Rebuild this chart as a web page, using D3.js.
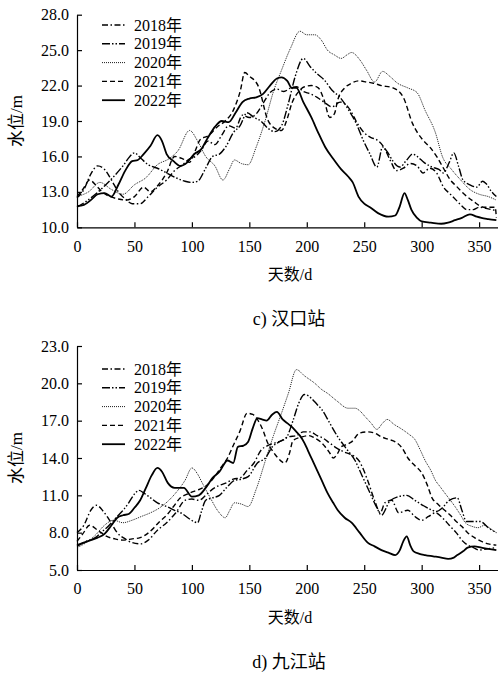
<!DOCTYPE html>
<html>
<head>
<meta charset="utf-8">
<script src="https://cdn.jsdelivr.net/npm/d3@7"></script>
<style>
  body { margin: 0; background: #fff; }
  svg text { font-family: "Liberation Serif", "Times New Roman", Times, "Noto Sans CJK SC", serif; fill: #000; }
</style>
</head>
<body>
<div id="chart"></div>
<script>
// legend labels and line styles
const years = ["2018年", "2019年", "2020年", "2021年", "2022年"];
const xTicks = [0, 50, 100, 150, 200, 250, 300, 350];

// 汉口站 water level, [day, m]
const hk2018 = [[0,12.5],[6,13.2],[12,14.5],[18,15.2],[24,14.9],[30,14.0],[36,13.0],[42,12.4],[48,12.0],[55,12.0],[62,12.6],[70,13.4],[78,14.0],[85,14.8],[92,15.3],[98,15.8],[103,16.0],[108,16.5],[114,17.3],[120,17.0],[126,17.8],[132,18.6],[138,18.4],[144,19.5],[150,19.3],[156,19.6],[162,20.5],[168,21.4],[174,21.7],[180,21.5],[186,21.8],[191,21.9],[197,21.5],[203,21.3],[209,21.0],[215,20.6],[222,20.2],[229,20.6],[234,20.4],[238,19.9],[244,18.8],[250,18.0],[256,17.6],[261,17.4],[267,16.8],[273,15.6],[278,14.8],[284,15.0],[290,15.4],[296,15.2],[301,14.6],[307,15.0],[313,14.6],[319,13.4],[325,12.8],[330,12.3],[335,11.8],[339,11.5],[345,11.5],[350,11.7],[356,11.6],[365,11.4]];
const hk2019 = [[0,11.7],[8,12.2],[16,12.8],[24,13.5],[32,14.3],[40,15.2],[46,16.0],[50,16.3],[56,15.8],[62,15.3],[70,15.0],[78,14.6],[86,14.2],[94,13.9],[100,13.8],[105,13.9],[112,15.0],[118,16.0],[124,16.2],[130,16.9],[136,18.0],[142,18.6],[148,19.7],[154,19.3],[160,19.0],[166,18.4],[172,18.1],[178,18.6],[184,20.5],[190,22.8],[197,24.3],[203,23.6],[209,23.0],[215,22.5],[222,21.6],[229,21.0],[236,20.0],[243,18.8],[249,17.4],[255,16.2],[261,15.1],[266,16.8],[270,16.4],[275,15.6],[281,15.1],[287,15.7],[292,16.2],[296,16.0],[302,15.5],[309,15.1],[315,14.9],[319,14.6],[324,15.5],[328,16.3],[332,15.2],[336,14.0],[342,13.6],[348,13.4],[353,13.9],[356,13.7],[361,13.0],[365,12.6]];
const hk2020 = [[0,12.6],[10,13.0],[20,13.8],[30,13.2],[40,12.8],[50,13.6],[60,14.2],[70,15.3],[80,15.8],[88,16.5],[98,18.2],[105,17.3],[112,16.0],[120,15.2],[127,14.0],[133,15.0],[137,15.7],[143,15.4],[149,15.3],[156,16.8],[164,19.1],[171,21.5],[178,23.3],[186,25.2],[194,26.6],[200,26.3],[207,26.3],[213,25.8],[218,25.0],[224,24.6],[230,24.3],[235,24.6],[239,24.8],[246,24.2],[252,23.3],[259,22.3],[266,23.2],[272,22.8],[279,22.2],[288,21.8],[296,21.4],[303,19.9],[312,18.0],[318,16.0],[326,14.9],[334,14.0],[342,13.2],[350,12.8],[358,12.6],[365,12.3]];
const hk2021 = [[0,12.6],[5,13.2],[11,14.0],[17,13.5],[23,12.9],[29,12.6],[36,12.4],[43,12.3],[50,12.6],[58,13.4],[64,13.0],[70,13.5],[78,14.6],[85,16.0],[92,15.8],[98,15.5],[103,16.5],[107,17.4],[115,17.8],[122,18.5],[129,19.0],[136,19.9],[142,21.5],[146,23.1],[150,22.8],[158,21.9],[166,19.1],[172,18.4],[178,18.2],[183,19.2],[187,20.5],[193,21.5],[198,21.9],[204,22.0],[210,21.8],[215,20.8],[220,19.3],[224,19.6],[227,20.8],[233,21.8],[239,22.2],[245,22.4],[252,22.3],[258,22.2],[265,22.0],[275,21.8],[284,21.0],[292,18.8],[301,17.4],[307,16.8],[313,16.0],[319,15.0],[325,14.0],[330,13.5],[336,12.9],[345,12.2],[354,11.7],[360,11.7],[364,11.7],[365,10.8]];
const hk2022 = [[0,11.8],[6,11.9],[12,12.3],[18,12.8],[24,12.9],[30,12.6],[36,13.6],[42,14.8],[48,15.6],[53,15.7],[58,16.2],[64,16.9],[70,17.8],[74,17.3],[78,16.2],[84,15.6],[90,15.2],[96,15.5],[102,16.2],[108,16.6],[114,17.6],[120,18.5],[126,19.0],[132,18.9],[138,19.7],[144,20.6],[150,20.9],[156,21.0],[162,21.3],[168,22.0],[174,22.6],[178,22.7],[183,22.4],[187,21.8],[191,21.8],[197,20.6],[204,19.3],[210,18.0],[216,16.8],[223,15.8],[230,14.9],[236,14.3],[240,13.8],[245,12.6],[250,12.0],[255,11.7],[262,11.2],[271,10.9],[277,11.0],[281,11.8],[285,12.9],[288,12.3],[291,11.5],[296,10.8],[300,10.5],[308,10.4],[317,10.3],[323,10.4],[329,10.6],[335,10.8],[342,11.1],[348,10.9],[352,10.8],[358,10.7],[365,10.6]];

// 九江站 water level, [day, m]
const jj2018 = [[0,8.0],[6,8.6],[12,9.8],[17,10.2],[23,9.7],[29,8.9],[35,8.0],[42,7.5],[48,7.2],[55,7.1],[62,7.4],[70,8.2],[78,8.8],[86,9.6],[94,10.6],[100,10.7],[106,10.6],[112,11.0],[118,11.5],[124,11.8],[130,12.0],[136,12.3],[142,12.4],[148,13.0],[154,13.6],[160,14.6],[166,15.0],[172,15.2],[178,15.4],[184,15.7],[191,15.8],[197,16.1],[203,16.1],[209,15.8],[214,15.6],[220,15.2],[226,14.8],[232,14.5],[238,14.3],[246,13.7],[253,12.2],[259,10.6],[264,9.6],[268,10.4],[274,10.6],[280,9.6],[288,9.8],[294,9.3],[300,9.0],[306,9.3],[312,9.6],[318,9.2],[324,8.6],[330,8.0],[336,7.3],[340,7.0],[345,6.8],[350,6.6],[357,6.7],[365,6.8]];
const jj2019 = [[0,6.9],[8,7.3],[16,7.6],[22,8.1],[27,8.5],[32,9.0],[36,9.4],[41,9.9],[45,10.4],[50,11.1],[54,11.4],[58,11.2],[64,10.8],[70,10.4],[78,10.1],[85,9.8],[92,9.5],[98,9.1],[105,8.8],[108,9.6],[112,10.6],[118,10.8],[124,11.0],[130,11.6],[137,12.2],[143,12.3],[149,12.5],[157,13.6],[164,14.0],[170,14.9],[176,15.3],[182,15.6],[188,17.0],[193,18.4],[198,19.1],[204,18.8],[209,18.3],[213,17.9],[220,16.8],[227,15.7],[234,14.8],[242,13.8],[248,12.6],[255,11.2],[261,10.0],[265,9.4],[272,10.5],[280,10.9],[287,11.0],[294,10.6],[301,10.2],[307,9.9],[313,9.7],[318,10.0],[324,10.6],[331,10.8],[335,9.8],[339,8.9],[345,8.9],[351,8.9],[358,8.4],[365,8.0]];
const jj2020 = [[0,6.8],[8,7.2],[16,7.8],[24,8.6],[32,9.0],[40,8.8],[48,9.0],[56,9.3],[64,9.6],[72,10.0],[80,10.6],[86,11.2],[94,12.2],[100,13.2],[105,12.7],[109,12.0],[116,10.8],[123,9.7],[129,9.2],[133,9.8],[137,10.4],[143,10.3],[149,10.1],[156,11.5],[164,13.8],[171,15.8],[178,17.6],[184,19.2],[191,21.1],[198,20.6],[207,20.0],[213,19.5],[218,19.2],[226,18.6],[236,18.0],[242,18.0],[246,17.8],[251,17.3],[256,16.8],[261,16.3],[266,16.8],[270,17.1],[276,16.7],[283,16.3],[289,15.9],[294,15.5],[299,14.6],[303,13.8],[308,13.0],[312,12.2],[316,11.7],[320,11.2],[325,10.6],[329,10.1],[334,9.4],[338,8.8],[344,8.5],[349,8.4],[355,8.6],[360,8.3],[365,8.0]];
const jj2021 = [[0,7.3],[5,7.9],[11,8.6],[18,8.2],[26,7.7],[33,7.5],[40,7.4],[48,7.5],[55,7.6],[61,7.9],[67,8.4],[72,8.9],[78,9.4],[84,10.1],[90,10.8],[96,11.1],[101,11.3],[107,11.5],[113,11.8],[119,12.4],[125,13.2],[131,14.0],[136,15.0],[142,16.2],[148,17.6],[153,17.5],[157,17.1],[162,16.2],[166,15.2],[170,14.6],[174,14.1],[181,13.6],[185,14.4],[188,15.4],[196,15.7],[202,15.8],[207,15.6],[212,15.3],[216,14.9],[220,14.4],[223,14.0],[227,14.4],[230,14.9],[235,15.1],[239,15.3],[246,16.0],[253,16.1],[259,16.0],[265,15.7],[271,15.5],[277,15.3],[283,14.8],[288,14.0],[294,13.4],[300,12.8],[305,11.8],[309,10.8],[314,10.3],[320,9.8],[325,9.4],[329,9.0],[335,8.5],[340,8.0],[346,7.6],[352,7.3],[358,7.1],[365,7.0]];
const jj2022 = [[0,7.0],[6,7.2],[12,7.4],[18,7.6],[24,7.9],[30,8.6],[35,9.2],[40,9.4],[45,9.5],[50,10.0],[55,10.6],[60,11.6],[65,12.6],[70,13.2],[74,12.9],[79,12.0],[85,11.6],[93,11.6],[100,10.9],[106,11.0],[112,11.6],[118,12.4],[124,12.9],[131,13.8],[136,13.6],[140,14.9],[145,15.0],[149,15.3],[153,16.4],[157,17.2],[161,17.1],[165,17.0],[170,17.5],[174,17.7],[179,17.1],[183,16.8],[187,16.5],[191,16.1],[194,15.8],[198,15.2],[201,14.6],[205,13.8],[210,12.8],[214,12.0],[218,11.2],[223,10.4],[227,9.8],[233,9.2],[239,8.8],[246,8.0],[253,7.2],[259,6.9],[265,6.6],[271,6.4],[277,6.2],[281,6.6],[284,7.3],[287,7.7],[290,7.0],[293,6.5],[298,6.3],[303,6.2],[310,6.1],[317,6.0],[323,5.9],[328,6.0],[331,6.2],[336,6.5],[340,6.8],[346,6.9],[352,6.8],[358,6.7],[365,6.6]];

// line styles per year
const styles = [
  { dash: "6,2.5,1.5,2.5", width: 1.4 },
  { dash: "8,2,1.5,2,1.5,2", width: 1.4 },
  { dash: "1,1", width: 0.9 },
  { dash: "5,3", width: 1.4 },
  { dash: null, width: 1.8 }
];

const serif = "'Liberation Serif', 'Times New Roman', Times, 'Noto Sans CJK SC', serif";

const W = 501, H = 676;
const svg = d3.select("#chart").append("svg")
    .attr("width", W)
    .attr("height", H);

function drawPanel(cfg) {
  const x = d3.scaleLinear().domain([0, 366]).range([77, 497.5]);
  const y = d3.scaleLinear().domain(cfg.yDomain).range([cfg.bottom, cfg.top]);
  const g = svg.append("g");

  // series
  const line = d3.line()
      .x(d => x(d[0]))
      .y(d => y(d[1]))
      .curve(d3.curveMonotoneX);

  cfg.series.forEach((s, i) => {
    g.append("path")
        .datum(s)
        .attr("d", line)
        .attr("fill", "none")
        .attr("stroke", "#000")
        .attr("stroke-width", styles[i].width)
        .attr("stroke-dasharray", styles[i].dash);
  });

  // axes (ticks pointing inward)
  const xAxis = g.append("g")
      .attr("transform", `translate(0,${cfg.bottom})`)
      .call(d3.axisBottom(x).tickValues(xTicks).tickSizeInner(-5).tickSizeOuter(0).tickPadding(13));
  const yAxis = g.append("g")
      .attr("transform", `translate(77,0)`)
      .call(d3.axisLeft(y).tickValues(d3.range(cfg.yDomain[0], cfg.yDomain[1] + 0.1, 3))
        .tickFormat(d3.format(".1f")).tickSizeInner(-5).tickSizeOuter(0).tickPadding(8));
  [xAxis, yAxis].forEach(a => {
    a.attr("font-family", null);
    a.select(".domain").attr("stroke", "#000").attr("stroke-width", 1.2);
    a.selectAll(".tick line").attr("stroke", "#000").attr("stroke-width", 1.2);
    a.selectAll("text")
        .style("font-family", serif)
        .style("font-size", "16px")
        .attr("fill", "#000");
  });

  // legend
  const lg = g.append("g");
  years.forEach((yr, i) => {
    const ly = cfg.legendTop + i * 18.8;
    lg.append("line")
        .attr("x1", 102).attr("x2", 125)
        .attr("y1", ly).attr("y2", ly)
        .attr("stroke", "#000")
        .attr("stroke-width", styles[i].width)
        .attr("stroke-dasharray", styles[i].dash);
    lg.append("text")
        .attr("x", 134).attr("y", ly + 5.5)
        .style("font-family", serif)
        .style("font-size", "16px")
        .text(yr);
  });

  // axis titles
  g.append("text")
      .attr("transform", `translate(22,${(cfg.top + cfg.bottom) / 2}) rotate(-90)`)
      .attr("text-anchor", "middle")
      .style("font-family", serif)
      .style("font-size", "17px")
      .text("水位/m");
  g.append("text")
      .attr("x", 290).attr("y", cfg.bottom + 53)
      .attr("text-anchor", "middle")
      .style("font-family", serif)
      .style("font-size", "16px")
      .text("天数/d");
  g.append("text")
      .attr("x", 289).attr("y", cfg.bottom + 98)
      .attr("text-anchor", "middle")
      .style("font-family", serif)
      .style("font-size", "18px")
      .text(cfg.caption);
}

drawPanel({
  yDomain: [10, 28], top: 14.7, bottom: 227.3, legendTop: 25,
  series: [hk2018, hk2019, hk2020, hk2021, hk2022], caption: "c) 汉口站"
});
drawPanel({
  yDomain: [5, 23], top: 346, bottom: 570, legendTop: 369,
  series: [jj2018, jj2019, jj2020, jj2021, jj2022], caption: "d) 九江站"
});
</script>
</body>
</html>
